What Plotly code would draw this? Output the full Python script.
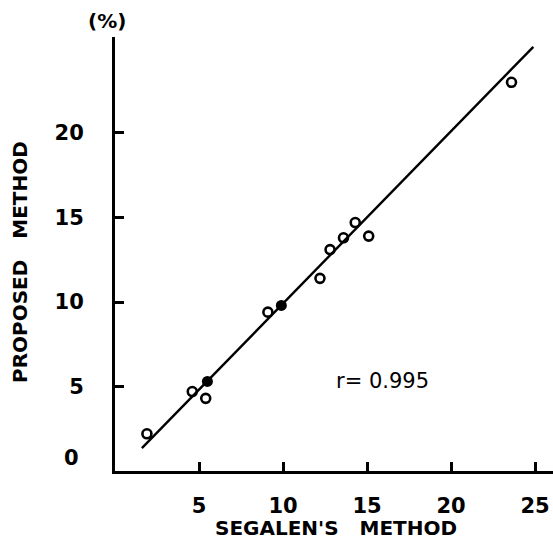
import plotly.graph_objects as go

# Measured values (%): Segalen's method (x) vs proposed method (y)
open_x = [1.9, 4.6, 5.4, 9.1, 12.2, 12.8, 13.6, 14.3, 15.1, 23.6]
open_y = [2.2, 4.7, 4.3, 9.4, 11.4, 13.1, 13.8, 14.7, 13.9, 23.0]
filled_x = [5.5, 9.9]
filled_y = [5.3, 9.8]

# Regression line end points
line_x = [1.6, 24.9]
line_y = [1.35, 25.1]

x_ticks = [5, 10, 15, 20, 25]
y_ticks = [5, 10, 15, 20]
r_text = "r= 0.995"

FONT = "DejaVu Sans"
TICK_FONT = dict(family=FONT, size=21, color="black", weight="bold")
TITLE_FONT = dict(family=FONT, size=20, color="black", weight="bold")

fig = go.Figure()
fig.add_trace(go.Scatter(x=line_x, y=line_y, mode="lines",
                         line=dict(color="black", width=2.4), hoverinfo="skip"))
fig.add_trace(go.Scatter(x=open_x, y=open_y, mode="markers",
                         marker=dict(symbol="circle-open", size=9, color="black",
                                     line=dict(width=2.6, color="black"))))
fig.add_trace(go.Scatter(x=filled_x, y=filled_y, mode="markers",
                         marker=dict(symbol="circle", size=11, color="black")))

axis_common = dict(showgrid=False, zeroline=False, showline=True, linecolor="black",
                   linewidth=3, ticks="inside", ticklen=9, tickwidth=2.5,
                   tickcolor="black", tickfont=TICK_FONT)

fig.update_xaxes(range=[0, 26.07], tickvals=x_ticks, ticklabelstandoff=14,
                 **axis_common)
fig.update_yaxes(range=[0, 25.68], tickvals=y_ticks, ticklabelstandoff=24,
                 **axis_common)

W, H = 553, 543
L, R, T, B = 115, 0, 37, 72


def to_paper(px, py):
    return (px - L) / (W - L - R), (H - B - py) / (H - T - B)


labels = [
    dict(x=71, y=458, text="0", angle=0, font=TICK_FONT),
    dict(x=107, y=21, text="(%)", angle=0, font=TITLE_FONT),
    dict(x=336, y=528, text="SEGALEN'S&nbsp;&nbsp;&nbsp;METHOD", angle=0, font=TITLE_FONT),
    dict(x=20, y=262, text="PROPOSED&nbsp;&nbsp;&nbsp;METHOD", angle=-90, font=TITLE_FONT),
]
for a in labels:
    xp, yp = to_paper(a["x"], a["y"])
    fig.add_annotation(x=xp, y=yp, xref="paper", yref="paper", text=a["text"],
                       textangle=a["angle"], showarrow=False, font=a["font"],
                       xanchor="center", yanchor="middle")

fig.add_annotation(x=15.9, y=5.33, xref="x", yref="y", text=r_text, showarrow=False,
                   font=dict(family=FONT, size=21, color="black"))

fig.update_layout(width=W, height=H, margin=dict(l=L, r=R, t=T, b=B),
                  plot_bgcolor="white", paper_bgcolor="white", showlegend=False)

fig.write_html("out.html")
